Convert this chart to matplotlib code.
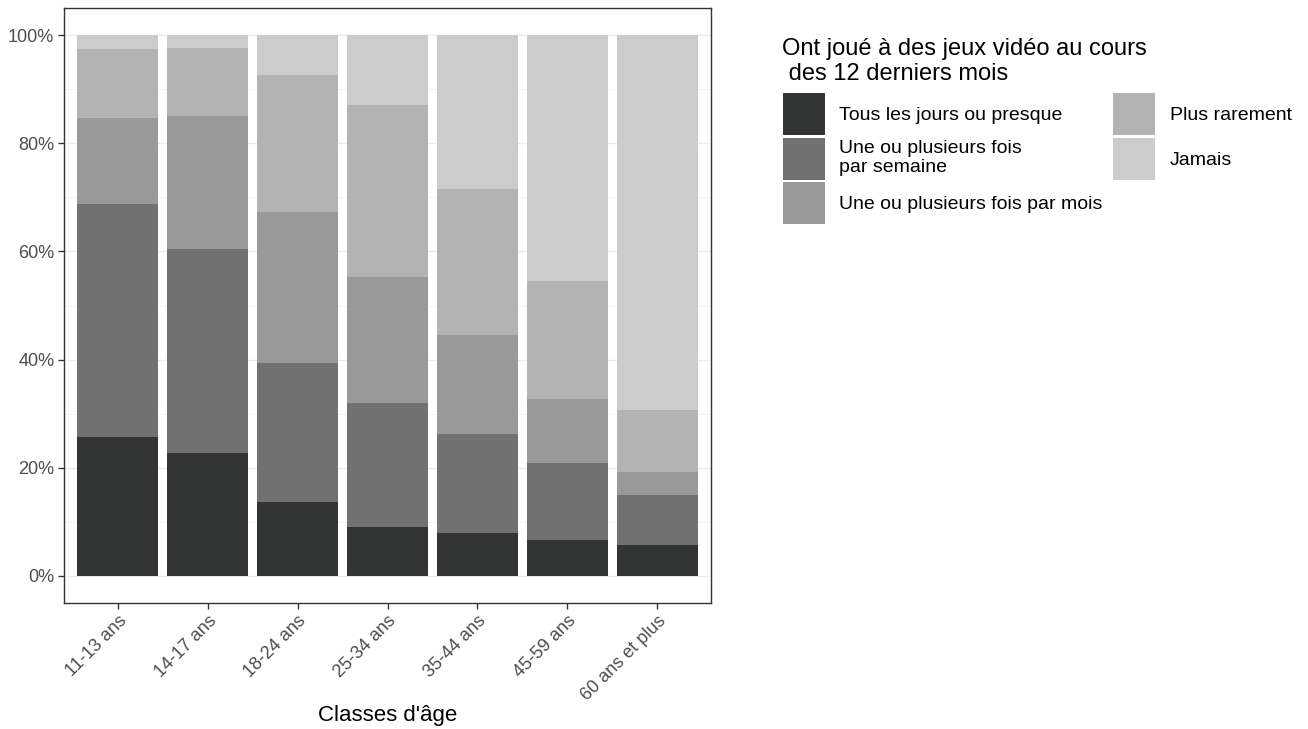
import numpy as np
import matplotlib.pyplot as plt
from matplotlib.ticker import FuncFormatter, MultipleLocator

plt.rcParams['font.family'] = ['Liberation Sans', 'DejaVu Sans']

# age classes and shares (in %) of each frequency
classes = ['11-13 ans', '14-17 ans', '18-24 ans', '25-34 ans',
           '35-44 ans', '45-59 ans', '60 ans et plus']
tous_les_jours = [25.7, 22.8, 13.7, 9.1, 8.0, 6.7, 5.7]
par_semaine = [43.0, 37.6, 25.7, 22.8, 18.3, 14.2, 9.3]
par_mois = [15.9, 24.6, 27.8, 23.3, 18.3, 11.9, 4.3]
plus_rarement = [12.8, 12.6, 25.4, 31.8, 26.9, 21.8, 11.4]
jamais = [2.6, 2.4, 7.4, 13.0, 28.5, 45.4, 69.3]

series = [tous_les_jours, par_semaine, par_mois, plus_rarement, jamais]
labels = ['Tous les jours ou presque', 'Une ou plusieurs fois\npar semaine',
          'Une ou plusieurs fois par mois', 'Plus rarement', 'Jamais']
colors = ['#333434', '#717171', '#999999', '#B3B3B3', '#CCCCCC']

fig = plt.figure(figsize=(13.08, 7.29), dpi=100)
ax = fig.add_axes([64/1308, 1-603/729, (711-64)/1308, (603-8)/729])

x = np.arange(len(classes))
bottom = np.zeros(len(classes))
for vals, lab, col in zip(series, labels, colors):
    ax.bar(x, vals, 0.9, bottom=bottom, color=col, label=lab, linewidth=0, zorder=2)
    bottom += np.array(vals)

ax.set_xlim(-0.6, 6.6)
ax.set_ylim(-5, 105)
ax.yaxis.set_major_locator(MultipleLocator(20))
ax.yaxis.set_minor_locator(MultipleLocator(10))
ax.yaxis.set_major_formatter(FuncFormatter(lambda v, p: '%d%%' % v))
ax.set_xticks(x)
ax.set_xticklabels(classes, rotation=45, ha='right', rotation_mode='anchor')
ax.grid(which='major', axis='y', color='#EBEBEB', linewidth=1.0, zorder=0)
ax.grid(which='minor', axis='y', color='#F3F3F3', linewidth=0.6, zorder=0)
ax.set_axisbelow(True)
for s in ax.spines.values():
    s.set_color('#333333')
    s.set_linewidth(1.0)
ax.tick_params(which='major', colors='#333333', labelcolor='#4D4D4D',
               labelsize=13, length=4, width=1, pad=3)
ax.tick_params(which='minor', length=0)
ax.set_xlabel("Classes d'âge", fontsize=16)
ax.xaxis.set_label_coords(0.5, (603-705)/595)

leg = fig.legend(loc='upper left', bbox_to_anchor=(765/1308, 1-20/729),
                 ncol=2, frameon=False, fontsize=14,
                 title="Ont joué à des jeux vidéo au cours\n des 12 derniers mois",
                 title_fontsize=17, alignment='left',
                 handlelength=2.16, handleheight=2.95, labelspacing=0.13,
                 handletextpad=0.75, columnspacing=0.55, borderpad=0.4)
# a bit more room between the title and the keys
leg._legend_box.sep = 6

plt.savefig('out.png', dpi=100)
